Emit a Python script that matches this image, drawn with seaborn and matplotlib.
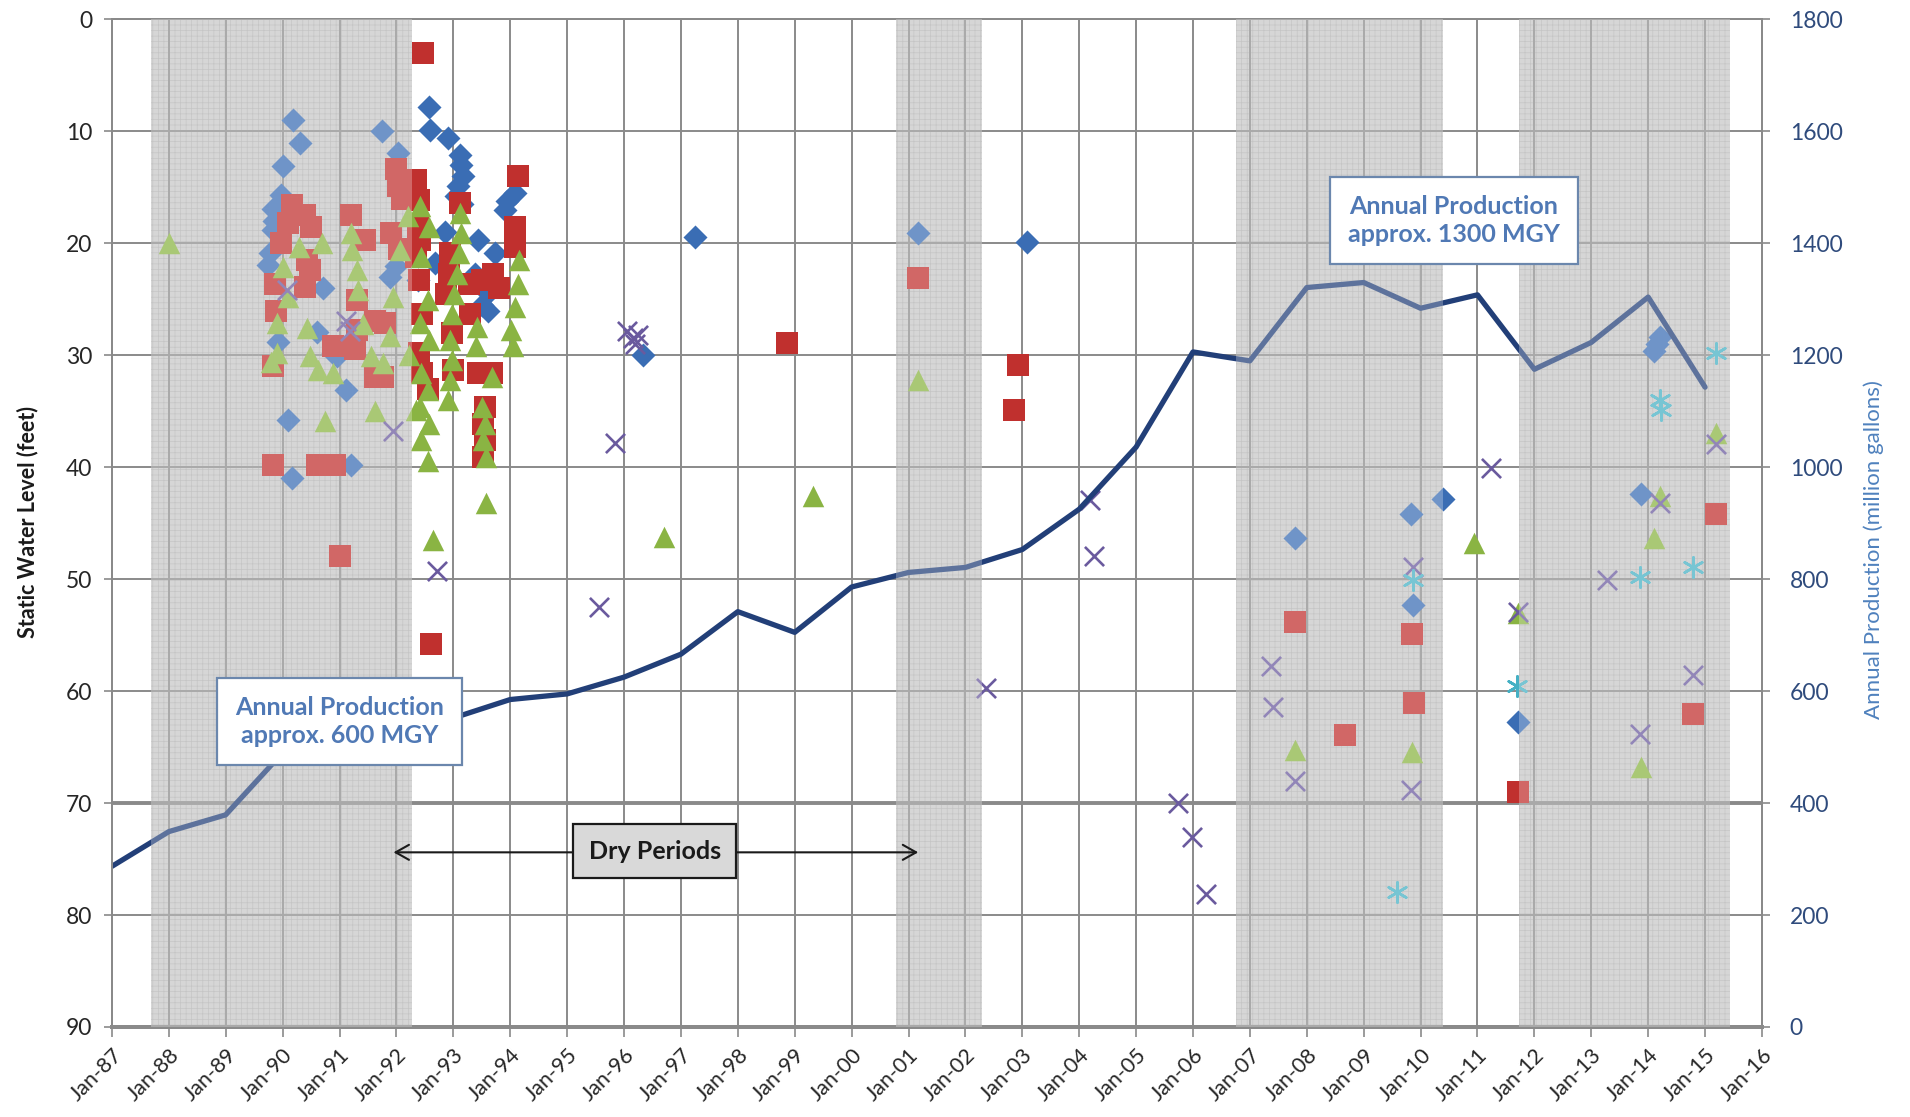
import matplotlib
matplotlib.use("Agg")
import matplotlib.pyplot as plt
import seaborn as sns

# annual production (million gallons), one point each January
prod_years = list(range(1987, 2016))
prod_mg = [287, 349, 379, 490, 515, 535, 552, 585, 595, 625, 666, 742, 705, 786, 812,
           821, 853, 925, 1036, 1206, 1190, 1321, 1330, 1284, 1308, 1175, 1223, 1304, 1143]

# dry periods (decimal years)
dry_start = [1987.68, 2000.78, 2006.75, 2011.73]
dry_end = [1992.28, 2002.30, 2010.40, 2015.43]

# static water level readings (decimal year, feet)
blue_yr = [1990.19, 1990.30, 1990.00, 1989.98, 1989.83, 1989.83, 1989.78, 1989.75, 1990.71, 1991.74,
           1992.03, 1991.89, 1990.60, 1989.92, 1990.88, 1990.95, 1991.12, 1990.10, 1990.16, 1991.21,
           1989.85, 1992.00,
           1992.57, 1992.59, 1992.91, 1993.12, 1993.13, 1993.17, 1993.08, 1993.04, 1994.08, 1993.90,
           1992.85, 1993.44, 1993.73, 1992.68, 1993.38, 1993.61, 1993.61, 1992.38, 1993.15, 1993.50,
           1993.95,
           1996.34, 1997.25, 2001.17, 2003.08, 2007.79, 2009.84, 2009.87, 2010.40, 2011.71, 2013.88,
           2014.10, 2014.15, 2014.20]
blue_ft = [9.0, 11.0, 13.1, 15.7, 16.9, 18.8, 20.9, 21.9, 24.0, 10.0,
           11.9, 23.0, 27.9, 28.8, 29.8, 30.1, 33.1, 35.8, 41.0, 39.8,
           18.0, 22.0,
           7.8, 9.9, 10.6, 12.1, 13.0, 14.0, 14.9, 15.8, 15.5, 17.0,
           19.0, 19.7, 20.9, 21.8, 22.7, 24.4, 26.0, 23.3, 16.5, 25.5,
           16.2,
           30.0, 19.4, 19.1, 19.9, 46.3, 44.2, 52.3, 42.8, 62.8, 42.4,
           29.6, 29.0, 28.4]

red_yr = [1990.16, 1990.39, 1990.10, 1990.50, 1989.98, 1990.42, 1990.48, 1989.86, 1990.39, 1989.89,
          1991.21, 1991.45, 1991.30, 1991.30, 1991.27, 1991.62, 1991.80, 1991.62, 1992.00, 1992.03,
          1991.91, 1989.83, 1990.60, 1990.75, 1990.92, 1991.00, 1989.83, 1990.89, 1991.77, 1992.10,
          1992.05,
          1992.47, 1992.35, 1992.40, 1992.38, 1992.42, 1992.35, 1992.40, 1992.45, 1992.40, 1992.45,
          1992.60, 1993.12, 1992.95, 1992.92, 1992.88, 1992.98, 1993.00, 1993.27, 1993.50, 1993.70,
          1993.30, 1993.43, 1993.68, 1993.56, 1993.52, 1993.56, 1993.52, 1994.14, 1994.08, 1994.08,
          1993.80, 1992.55,
          1998.86, 2001.17, 2002.93, 2002.86, 2007.79, 2008.68, 2009.85, 2009.88, 2011.71, 2014.79,
          2015.20]
red_ft = [16.6, 17.5, 18.2, 18.5, 20.0, 21.5, 22.4, 23.6, 23.9, 26.0,
          17.5, 19.7, 25.1, 27.7, 29.4, 26.9, 27.1, 31.9, 13.4, 14.9,
          19.1, 39.8, 39.8, 39.8, 39.8, 47.9, 31.0, 29.2, 31.9, 16.0,
          20.5,
          3.0, 14.3, 16.1, 18.5, 19.7, 21.2, 23.3, 26.3, 29.8, 31.6,
          55.8, 16.4, 20.9, 22.7, 24.5, 28.0, 31.3, 23.6, 23.3, 22.7,
          26.3, 31.6, 31.6, 34.6, 36.1, 37.6, 39.1, 14.0, 18.5, 20.3,
          24.0, 33.0,
          28.9, 23.1, 30.9, 34.9, 53.8, 63.9, 54.9, 61.1, 69.0, 62.0,
          44.2]

green_yr = [1988.00,
            1990.69, 1990.28, 1990.00, 1990.10, 1989.90, 1989.90, 1989.80, 1990.42, 1990.48, 1990.63,
            1990.89, 1990.74, 1991.21, 1991.22, 1991.30, 1991.32, 1991.42, 1991.56, 1991.77, 1991.62,
            1992.20, 1992.06, 1991.94, 1991.89, 1992.22, 1992.35,
            1992.42, 1992.58, 1992.44, 1992.56, 1992.42, 1992.58, 1992.44, 1992.56, 1992.42, 1992.58,
            1992.44, 1992.56, 1992.64,
            1993.12, 1993.13, 1993.10, 1993.06, 1993.02, 1992.98, 1992.95, 1992.97, 1992.95, 1992.90,
            1993.42, 1993.40, 1993.68, 1993.50, 1993.55, 1993.52, 1993.58, 1993.58,
            1994.15, 1994.13, 1994.08, 1994.02, 1994.05,
            1996.70, 1999.33, 2001.17, 2007.79, 2009.85, 2010.94, 2011.71, 2013.88, 2014.10, 2014.20,
            2015.20]
green_ft = [20.0,
            20.0, 20.3, 22.1, 24.8, 27.1, 29.8, 30.6, 27.6, 30.1, 31.3,
            31.6, 35.9, 19.1, 20.6, 22.4, 24.2, 27.2, 30.1, 30.7, 35.0,
            17.6, 20.6, 24.8, 28.3, 30.0, 34.9,
            16.7, 18.5, 21.2, 25.1, 27.1, 28.6, 31.6, 33.1, 34.6, 36.1,
            37.6, 39.4, 46.5,
            17.3, 19.1, 20.9, 22.7, 24.5, 26.3, 28.6, 30.4, 32.2, 34.0,
            27.5, 29.2, 31.9, 34.6, 36.1, 37.6, 39.1, 43.2,
            21.5, 23.6, 25.7, 27.7, 29.2,
            46.2, 42.6, 32.2, 65.3, 65.4, 46.8, 53.0, 66.8, 46.3, 42.6,
            36.9]

purple_yr = [1990.07, 1991.12, 1991.18, 1991.94, 1992.71, 1995.56, 1995.84, 1996.05, 1996.15, 1996.20,
             1996.25, 2002.37, 2004.19, 2004.26, 2005.73, 2005.99, 2006.22, 2007.37, 2007.41, 2007.79,
             2009.86, 2009.83, 2011.23, 2011.71, 2013.28, 2013.86, 2014.20, 2014.79, 2015.20]
purple_ft = [24.2, 26.9, 27.8, 36.8, 49.3, 52.5, 37.8, 27.8, 28.5, 29.0,
             28.2, 59.7, 42.9, 47.9, 70.0, 73.0, 78.1, 57.8, 61.4, 68.0,
             48.9, 68.8, 40.1, 52.9, 50.1, 63.8, 43.2, 58.6, 37.9]

teal_yr = [2009.58, 2009.87, 2011.69, 2013.86, 2014.20, 2014.22, 2014.79, 2015.20]
teal_ft = [77.9, 50.1, 59.5, 49.8, 34.0, 34.9, 48.9, 29.8]

year_ticks = list(range(1987, 2017))
year_labels = [f"Jan-{y % 100:02d}" for y in year_ticks]

sns.set_theme(style="white")
plt.rcParams['font.family'] = ['Lato', 'DejaVu Sans']
plt.rcParams['hatch.linewidth'] = 0.5

grid_col = '#8a8a8a'

fig = plt.figure(figsize=(19.1, 11.17), dpi=100)
ax1 = fig.add_axes([0.0586, 0.0806, 0.8639, 0.9020])
ax2 = ax1.twinx()

# dry period shading (textured gray under the data)
for a, b in zip(dry_start, dry_end):
    ax1.axvspan(a, b, facecolor='#c8c8c8', edgecolor='#b0b0b0', hatch='+++', lw=0, zorder=0.1)

ax1.set_axisbelow(True)
ax1.grid(True, color=grid_col, lw=1.4)
ax1.axhline(70, color=grid_col, lw=2.8, zorder=0.6)

series = [
    (blue_yr, blue_ft, 'D', '#3a6db4', 150, 0),
    (red_yr, red_ft, 's', '#c0302e', 230, 0),
    (green_yr, green_ft, '^', '#8ab443', 240, 0),
    (purple_yr, purple_ft, 'x', '#6a5a9e', 190, 1.9),
    (teal_yr, teal_ft, (6, 2, 0), '#45b0c4', 210, 1.9),
]
for xs, ys, mk, col, size, lw in series:
    sns.scatterplot(x=xs, y=ys, marker=mk, color=col, s=size, linewidth=lw,
                    ax=ax1, zorder=2, legend=False)

sns.lineplot(x=prod_years, y=prod_mg, ax=ax2, color='#223f78', lw=3.8, zorder=2)

# lighten everything inside the dry periods
for a, b in zip(dry_start, dry_end):
    ax2.axvspan(a, b, facecolor='white', alpha=0.27, lw=0, zorder=3)

ax1.set_xlim(1987, 2016)
ax1.set_ylim(90, 0)
ax1.set_yticks(range(0, 91, 10))
ax1.set_xticks(year_ticks)
ax1.set_xticklabels(year_labels, rotation=45, ha='right', rotation_mode='anchor')
ax2.set_ylim(0, 1800)
ax2.set_yticks(range(0, 1801, 200))
ax2.grid(False)

ax1.tick_params(axis='y', left=True, length=6, width=1.2, color=grid_col, pad=8,
                labelsize=16.5, labelcolor='#262626')
ax1.tick_params(axis='x', bottom=True, length=7, width=1.2, color=grid_col, pad=6,
                labelsize=15.5, labelcolor='#262626')
ax2.tick_params(axis='y', right=True, length=6, width=1.2, color=grid_col, pad=14,
                labelsize=16.5, labelcolor='#2f4b7c')

for ax in (ax1, ax2):
    for sp in ax.spines.values():
        sp.set_color(grid_col)
        sp.set_linewidth(1.4)
ax1.spines['bottom'].set_linewidth(2.8)
ax2.spines['bottom'].set_linewidth(2.8)

ax1.set_xlabel('')
ax2.set_xlabel('')
ax1.set_ylabel("Static Water Level (feet)", fontsize=15.5, fontweight='bold', color='#1a1a1a')
ax1.yaxis.set_label_coords(-0.0445, 0.5015)
ax2.set_ylabel("Annual Production (million gallons)", fontsize=16, color='#4f81bd')
ax2.yaxis.set_label_coords(1.0615, 0.474)

# callouts
box_kw = dict(boxstyle='square,pad=0.72', fc='white', ec='#6b87ad', lw=1.6)
ax2.text(1991.0, 546, "Annual Production\napprox. 600 MGY", ha='center', va='center',
         fontsize=18, fontweight='bold', color='#5079b5', linespacing=1.3,
         bbox=box_kw, zorder=6)
ax2.text(2010.58, 1441, "Annual Production\napprox. 1300 MGY", ha='center', va='center',
         fontsize=18, fontweight='bold', color='#5079b5', linespacing=1.3,
         bbox=box_kw, zorder=6)

arrow_kw = dict(arrowstyle='->,head_length=0.8,head_width=0.45', color='#1a1a1a', lw=1.5)
ax2.annotate('', xy=(1991.9, 74.4), xytext=(1996.54, 74.4), xycoords=ax1.transData,
             textcoords=ax1.transData, arrowprops=arrow_kw, zorder=5)
ax2.annotate('', xy=(2001.22, 74.4), xytext=(1996.54, 74.4), xycoords=ax1.transData,
             textcoords=ax1.transData, arrowprops=arrow_kw, zorder=5)
ax2.text(1996.54, 74.3, "Dry Periods", transform=ax1.transData, ha='center', va='center',
         fontsize=18, fontweight='bold', color='#1a1a1a',
         bbox=dict(boxstyle='square,pad=0.62', fc='#d9d9d9', ec='#1a1a1a', lw=1.6), zorder=7)

fig.savefig("out.png", dpi=100)
